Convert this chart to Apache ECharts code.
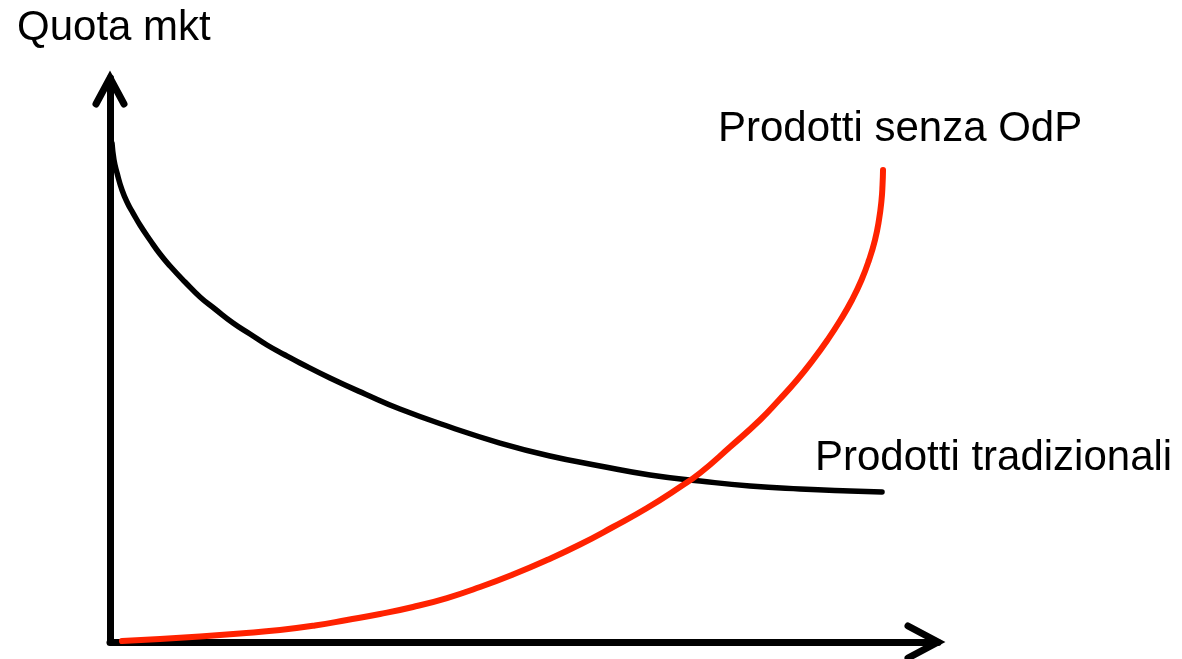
<!DOCTYPE html>
<html>
<head>
<meta charset="utf-8">
<style>
  html, body { margin: 0; padding: 0; background: #ffffff; }
  #chart { width: 1182px; height: 659px; }
</style>
<script src="https://cdn.jsdelivr.net/npm/echarts@6/dist/echarts.min.js"></script>
</head>
<body>
<div id="chart"></div>
<script>
// Data (x: 0..100, y: 0..100, arbitrary units)
var traditionalX = [0.24, 0.48, 0.85, 1.45, 2.17, 2.78, 3.62, 4.83, 6.04, 7.25, 9.06, 10.87, 12.68, 14.86, 16.91, 18.96, 21.14, 22.95, 26.57, 30.80, 35.02, 41.06, 47.10, 53.14, 59.18, 65.22, 71.26, 77.29, 83.33, 89.37, 93.24];
var traditionalY = [88.48, 85.46, 83.16, 80.14, 77.66, 76.06, 73.94, 71.28, 68.79, 66.67, 63.83, 61.17, 59.04, 56.56, 54.61, 52.66, 50.89, 49.47, 46.81, 43.97, 41.31, 38.12, 35.28, 32.98, 31.21, 29.61, 28.55, 27.66, 27.13, 26.77, 26.60];

var noOdpX = [1.45, 6.04, 10.87, 15.70, 20.53, 24.76, 28.62, 32.61, 36.59, 40.70, 44.69, 48.67, 52.78, 56.76, 60.75, 64.86, 68.84, 71.26, 74.88, 78.50, 80.80, 82.97, 84.90, 86.65, 88.22, 89.61, 90.76, 91.67, 92.39, 92.87, 93.18, 93.30, 93.36];
var noOdpY = [0.18, 0.53, 0.98, 1.51, 2.13, 2.93, 3.90, 4.96, 6.21, 7.80, 9.75, 11.97, 14.54, 17.29, 20.39, 23.76, 27.48, 29.96, 34.57, 39.36, 42.91, 46.45, 50.00, 53.55, 57.09, 60.64, 64.18, 67.73, 71.28, 74.82, 78.37, 81.03, 83.69];

var yAxisTitle = 'Quota mkt';
var seriesNames = ['Prodotti tradizionali', 'Prodotti senza OdP'];

function zip(xs, ys) {
  var out = [];
  for (var i = 0; i < xs.length; i++) out.push([xs[i], ys[i]]);
  return out;
}

var chart = echarts.init(document.getElementById('chart'), null, { renderer: 'canvas' });

var axisCommon = {
  type: 'value',
  min: 0,
  max: 100,
  axisLine: { show: true, onZero: false, lineStyle: { color: '#000000', width: 7 } },
  axisTick: { show: false },
  axisLabel: { show: false },
  splitLine: { show: false }
};

chart.setOption({
  animation: false,
  backgroundColor: '#ffffff',
  grid: { left: 110, right: 244, top: 78, bottom: 17 },
  xAxis: axisCommon,
  yAxis: axisCommon,
  series: [
    {
      name: seriesNames[0],
      type: 'line',
      data: zip(traditionalX, traditionalY),
      smooth: true,
      symbol: 'none',
      lineStyle: { color: '#000000', width: 5.5, cap: 'round', join: 'round' },
      z: 3
    },
    {
      name: seriesNames[1],
      type: 'line',
      data: zip(noOdpX, noOdpY),
      smooth: true,
      symbol: 'none',
      lineStyle: { color: '#ff2200', width: 6, cap: 'round', join: 'round' },
      z: 4
    }
  ]
});

// Arrow heads at the axis ends, placed through the chart's own coordinate conversion
var yEnd = chart.convertToPixel({ gridIndex: 0 }, [0, 100]);
var xEnd = chart.convertToPixel({ gridIndex: 0 }, [100, 0]);
var font = '42px "Liberation Sans", Arial, sans-serif';

chart.setOption({
  graphic: [
    {
      type: 'polyline',
      shape: { points: [[yEnd[0] - 14, yEnd[1] + 26], [yEnd[0], yEnd[1]], [yEnd[0] + 14, yEnd[1] + 26]] },
      style: { stroke: '#000000', lineWidth: 7, fill: null, lineCap: 'round', lineJoin: 'miter' },
      z: 10
    },
    {
      type: 'polyline',
      shape: { points: [[xEnd[0] - 30, xEnd[1] - 16], [xEnd[0], xEnd[1]], [xEnd[0] - 30, xEnd[1] + 16]] },
      style: { stroke: '#000000', lineWidth: 7, fill: null, lineCap: 'round', lineJoin: 'miter' },
      z: 10
    },
    {
      type: 'text',
      style: { x: 17, y: 28, text: yAxisTitle, font: font, fill: '#000000', textVerticalAlign: 'middle', verticalAlign: 'middle' },
      z: 10
    },
    {
      type: 'text',
      style: { x: 718, y: 129, text: seriesNames[1], font: font, fill: '#000000', textVerticalAlign: 'middle', verticalAlign: 'middle' },
      z: 10
    },
    {
      type: 'text',
      style: { x: 815, y: 458, text: seriesNames[0], font: font, fill: '#000000', textVerticalAlign: 'middle', verticalAlign: 'middle' },
      z: 10
    }
  ]
});
</script>
</body>
</html>
